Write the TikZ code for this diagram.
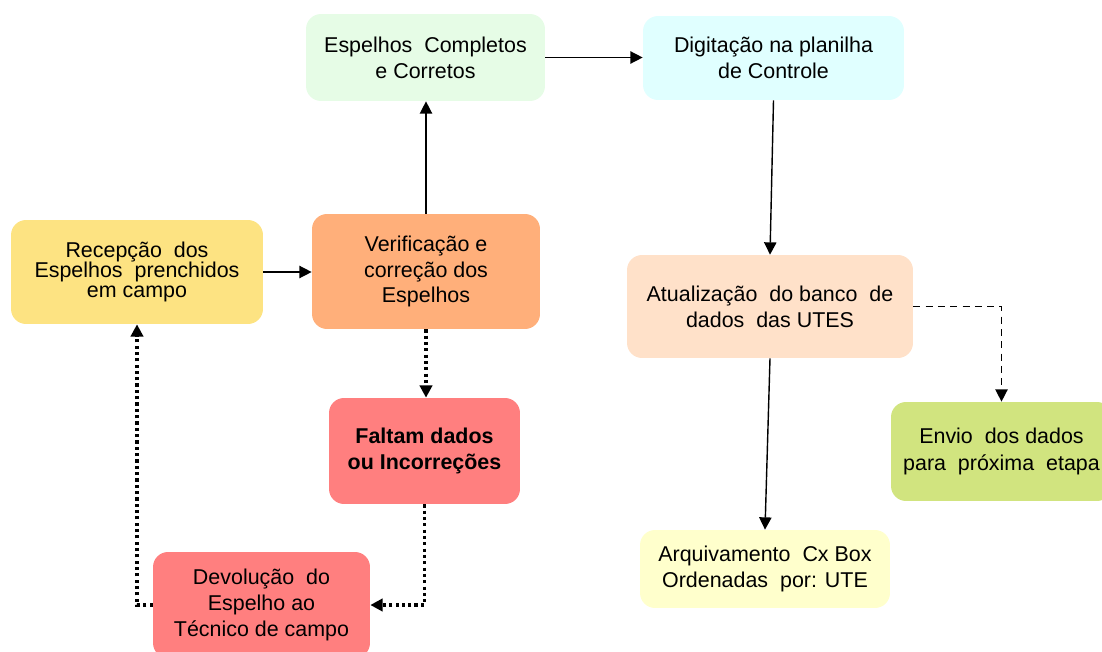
\documentclass[tikz,border=0pt]{standalone}
\usepackage{fontspec}
\setmainfont{Liberation Sans}
\usetikzlibrary{arrows.meta,calc}
\definecolor{cEsp}{HTML}{E6FCE6}
\definecolor{cDig}{HTML}{E0FFFF}
\definecolor{cRec}{HTML}{FDE382}
\definecolor{cVer}{HTML}{FFAF7A}
\definecolor{cFal}{HTML}{FF7F7F}
\definecolor{cAtu}{HTML}{FFE1C9}
\definecolor{cEnv}{HTML}{D1E47F}
\definecolor{cArq}{HTML}{FFFFCC}
\begin{document}
\begin{tikzpicture}[x=0.02cm,y=-0.02cm,
  box/.style={rounded corners=0.3cm, align=center, inner sep=0pt,
    font=\fontsize{12.2}{14.7}\selectfont},
  arr/.style={-{Triangle[length=7pt,width=7pt]}, line width=0.8pt},
  dotarr/.style={-{Triangle[length=7pt,width=7pt]}, line width=2pt, dash pattern=on 1.8pt off 1.8pt},
  dasharr/.style={-{Triangle[length=7pt,width=7pt]}, line width=0.8pt, dash pattern=on 4pt off 3pt}]
\useasboundingbox (0,0) rectangle (1102,652);
\node[box, fill=cEsp, minimum width=4.78cm, minimum height=1.74cm] (esp) at (425.5,57.5)
  {Espelhos\ \ Completos\\e Corretos};
\node[box, fill=cDig, minimum width=5.22cm, minimum height=1.68cm] (dig) at (773.5,58)
  {Digitação na planilha\\de Controle};
\node[box, fill=cRec, minimum width=5.04cm, minimum height=2.08cm,
  font=\fontsize{12.2}{11.5}\selectfont] (rec) at (137,272)
  {Recepção\ \ dos\\Espelhos\ \ prenchidos\\em campo};
\node[box, fill=cVer, minimum width=4.56cm, minimum height=2.30cm] (ver) at (426,271.5)
  {Verificação e\\correção dos\\Espelhos};
\node[box, fill=cFal, minimum width=3.82cm, minimum height=2.12cm,
  font=\fontsize{12.2}{15.3}\selectfont\bfseries] (fal) at (424.5,451)
  {Faltam dados\\ou Incorreções};
\node[box, fill=cFal, minimum width=4.34cm, minimum height=2.12cm] (dev) at (261.5,605)
  {Devolução\ \ do\\Espelho ao\\Técnico de campo};
\node[box, fill=cAtu, minimum width=5.72cm, minimum height=2.06cm] (atu) at (770,306.5)
  {Atualização\ \ do banco\ \ de\\dados\ \ das UTES};
\node[box, fill=cEnv, minimum width=4.42cm, minimum height=1.98cm,
  font=\fontsize{12.2}{15.3}\selectfont] (env) at (1001.5,451.5)
  {Envio\ \ dos dados\\para\ \ próxima\ \ etapa};
\node[box, fill=cArq, minimum width=5.00cm, minimum height=1.56cm] (arq) at (765,569)
  {Arquivamento\ \ Cx Box\\Ordenadas\ \ por: UTE};
\draw[arr] (rec.east) -- (rec.east -| ver.west);
\draw[arr] (ver.north) -- (ver.north |- esp.south);
\draw[arr] (esp.east) -- (esp.east -| dig.west);
\draw[arr] (dig.south) -- (atu.north);
\draw[arr] (atu.south) -- (arq.north);
\draw[dasharr] (atu.east) -| (env.north);
\draw[dotarr] (ver.south) -- (ver.south |- fal.north);
\draw[dotarr] (fal.south) |- (dev.east);
\draw[dotarr] (dev.west) -| (rec.south);
\end{tikzpicture}
\end{document}
